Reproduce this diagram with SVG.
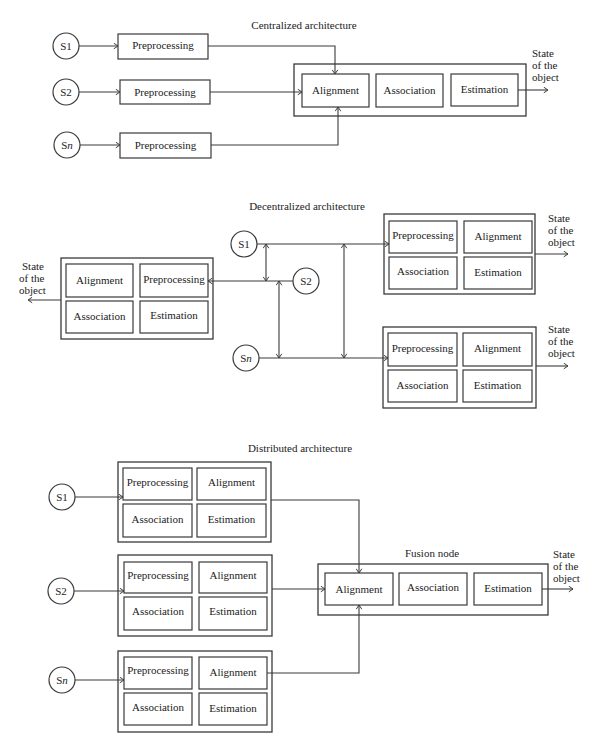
<svg xmlns="http://www.w3.org/2000/svg" width="600" height="752" viewBox="0 0 600 752">
<style>
text{font-family:"Liberation Serif","Times New Roman",serif;font-size:11px;fill:#222}
.c{text-anchor:middle}
.b{fill:#fff;stroke:#3a3a3a;stroke-width:1.2}
.o{fill:none;stroke:#3a3a3a;stroke-width:1.3}
.l{fill:none;stroke:#3a3a3a;stroke-width:1.1}
.a{marker-end:url(#ah)}
.d{marker-start:url(#ah);marker-end:url(#ah)}
</style>
<defs>
<marker id="ah" viewBox="0 0 10 10" refX="9" refY="5" markerWidth="7" markerHeight="7" markerUnits="userSpaceOnUse" orient="auto-start-reverse">
<path d="M3,1 L9,5 L3,9" fill="none" stroke="#3a3a3a" stroke-width="1.4"/>
</marker>
</defs>
<rect width="600" height="752" fill="#fff"/>

<text class="c" x="304" y="29">Centralized architecture</text>
<text class="c" x="307" y="210">Decentralized architecture</text>
<text class="c" x="300" y="452">Distributed architecture</text>

<g id="connectors">
<!-- centralized -->
<path class="l a" d="M79,46 H118"/>
<path class="l a" d="M79,92 H120"/>
<path class="l a" d="M80,145 H120"/>
<path class="l a" d="M208,46 H335 V74"/>
<path class="l a" d="M210,92 H302"/>
<path class="l a" d="M211,145 H338 V107"/>
<path class="l a" d="M518,90 H548"/>
<!-- decentralized -->
<path class="l a" d="M257,244 H389"/>
<path class="l d" d="M266,244 V281"/>
<path class="l a" d="M293,281 H208"/>
<path class="l d" d="M279,281 V358"/>
<path class="l d" d="M344,244 V358"/>
<path class="l a" d="M259,358 H388"/>
<path class="l a" d="M61,300 H28"/>
<path class="l a" d="M535,254 H568"/>
<path class="l a" d="M536,366 H568"/>
<!-- distributed -->
<path class="l a" d="M75,497 H123"/>
<path class="l a" d="M74,591 H124"/>
<path class="l a" d="M75,680 H124"/>
<path class="l a" d="M271,500 H359 V573"/>
<path class="l a" d="M272,589 H325"/>
<path class="l a" d="M267,673 H359 V605"/>
<path class="l a" d="M542,589 H573"/>
</g>

<!-- Centralized -->
<g id="c-s1"><circle class="b" cx="66" cy="46" r="13"/><text class="c" x="66" y="50">S1</text></g>
<g id="c-s2"><circle class="b" cx="66" cy="92" r="13"/><text class="c" x="66" y="96">S2</text></g>
<g id="c-sn"><circle class="b" cx="67" cy="145" r="13"/><text class="c" x="67" y="149">S<tspan font-style="italic">n</tspan></text></g>
<g id="c-pre1"><rect class="b" x="118" y="34" width="90" height="25"/><text class="c" x="163" y="49">Preprocessing</text></g>
<g id="c-pre2"><rect class="b" x="120" y="80" width="90" height="24"/><text class="c" x="165" y="96">Preprocessing</text></g>
<g id="c-pre3"><rect class="b" x="120" y="133" width="91" height="25"/><text class="c" x="165.5" y="149">Preprocessing</text></g>
<g id="c-fusion">
<rect class="o" x="294" y="64" width="232" height="52"/>
<rect class="b" x="302" y="74" width="67" height="33"/><text class="c" x="335.5" y="94">Alignment</text>
<rect class="b" x="376" y="74" width="67" height="33"/><text class="c" x="409.5" y="94">Association</text>
<rect class="b" x="451" y="74" width="67" height="32"/><text class="c" x="484.5" y="93">Estimation</text>
</g>
<g id="c-out"><text x="532" y="57">State</text><text x="532" y="69">of the</text><text x="532" y="81">object</text></g>

<!-- Decentralized -->
<g id="d-s1"><circle class="b" cx="244" cy="244" r="13"/><text class="c" x="244" y="248">S1</text></g>
<g id="d-s2"><circle class="b" cx="306" cy="281" r="13"/><text class="c" x="306" y="285">S2</text></g>
<g id="d-sn"><circle class="b" cx="246" cy="358" r="13"/><text class="c" x="246" y="362">S<tspan font-style="italic">n</tspan></text></g>
<g id="d-left">
<rect class="o" x="61" y="258" width="152" height="81"/>
<rect class="b" x="66" y="264" width="67" height="33"/><text class="c" x="99.5" y="284">Alignment</text>
<rect class="b" x="140" y="264" width="68" height="33"/><text class="c" x="174" y="283">Preprocessing</text>
<rect class="b" x="66" y="301" width="67" height="32"/><text class="c" x="99.5" y="320">Association</text>
<rect class="b" x="140" y="301" width="68" height="32"/><text class="c" x="174" y="319">Estimation</text>
</g>
<g id="d-left-out"><text x="22" y="270">State</text><text x="19" y="282">of the</text><text x="19" y="294">object</text></g>
<g id="d-right1">
<rect class="o" x="384" y="214" width="151" height="80"/>
<rect class="b" x="389" y="221" width="68" height="32"/><text class="c" x="423" y="239">Preprocessing</text>
<rect class="b" x="464" y="221" width="68" height="32"/><text class="c" x="498" y="240">Alignment</text>
<rect class="b" x="389" y="257" width="68" height="32"/><text class="c" x="423" y="275">Association</text>
<rect class="b" x="464" y="257" width="68" height="32"/><text class="c" x="498" y="276">Estimation</text>
</g>
<g id="d-right1-out"><text x="548" y="222">State</text><text x="548" y="234">of the</text><text x="548" y="246">object</text></g>
<g id="d-right2">
<rect class="o" x="383" y="327" width="153" height="81"/>
<rect class="b" x="388" y="333" width="69" height="33"/><text class="c" x="422.5" y="352">Preprocessing</text>
<rect class="b" x="463" y="333" width="69" height="33"/><text class="c" x="497.5" y="352">Alignment</text>
<rect class="b" x="388" y="370" width="69" height="32"/><text class="c" x="422.5" y="389">Association</text>
<rect class="b" x="463" y="370" width="69" height="32"/><text class="c" x="497.5" y="389">Estimation</text>
</g>
<g id="d-right2-out"><text x="548" y="333">State</text><text x="548" y="345">of the</text><text x="548" y="357">object</text></g>

<!-- Distributed -->
<g id="t-s1"><circle class="b" cx="62" cy="497" r="13"/><text class="c" x="62" y="501">S1</text></g>
<g id="t-s2"><circle class="b" cx="61" cy="591" r="13"/><text class="c" x="61" y="595">S2</text></g>
<g id="t-sn"><circle class="b" cx="62" cy="680" r="13"/><text class="c" x="62" y="684">S<tspan font-style="italic">n</tspan></text></g>
<g id="t-node1">
<rect class="o" x="118" y="462" width="153" height="80"/>
<rect class="b" x="123" y="468" width="69" height="32"/><text class="c" x="157.5" y="486">Preprocessing</text>
<rect class="b" x="197" y="468" width="69" height="32"/><text class="c" x="231.5" y="486">Alignment</text>
<rect class="b" x="123" y="504" width="69" height="33"/><text class="c" x="157.5" y="523">Association</text>
<rect class="b" x="197" y="504" width="69" height="33"/><text class="c" x="231.5" y="523">Estimation</text>
</g>
<g id="t-node2">
<rect class="o" x="118" y="555" width="154" height="81"/>
<rect class="b" x="124" y="562" width="68" height="31"/><text class="c" x="158" y="579">Preprocessing</text>
<rect class="b" x="199" y="562" width="68" height="31"/><text class="c" x="233" y="579">Alignment</text>
<rect class="b" x="124" y="597" width="68" height="33"/><text class="c" x="158" y="615">Association</text>
<rect class="b" x="199" y="597" width="68" height="33"/><text class="c" x="233" y="615">Estimation</text>
</g>
<g id="t-node3">
<rect class="o" x="118" y="651" width="154" height="81"/>
<rect class="b" x="124" y="657" width="68" height="32"/><text class="c" x="158" y="674">Preprocessing</text>
<rect class="b" x="199" y="657" width="68" height="32"/><text class="c" x="233" y="676">Alignment</text>
<rect class="b" x="124" y="693" width="68" height="32"/><text class="c" x="158" y="711">Association</text>
<rect class="b" x="199" y="693" width="68" height="32"/><text class="c" x="233" y="712">Estimation</text>
</g>
<g id="t-fusion">
<text class="c" x="432" y="557">Fusion node</text>
<rect class="o" x="318" y="564" width="230" height="51"/>
<rect class="b" x="325" y="573" width="68" height="32"/><text class="c" x="359" y="593">Alignment</text>
<rect class="b" x="399" y="573" width="68" height="32"/><text class="c" x="433" y="591">Association</text>
<rect class="b" x="474" y="573" width="68" height="32"/><text class="c" x="508" y="592">Estimation</text>
</g>
<g id="t-out"><text x="553" y="558">State</text><text x="553" y="570">of the</text><text x="553" y="582">object</text></g>
</svg>
